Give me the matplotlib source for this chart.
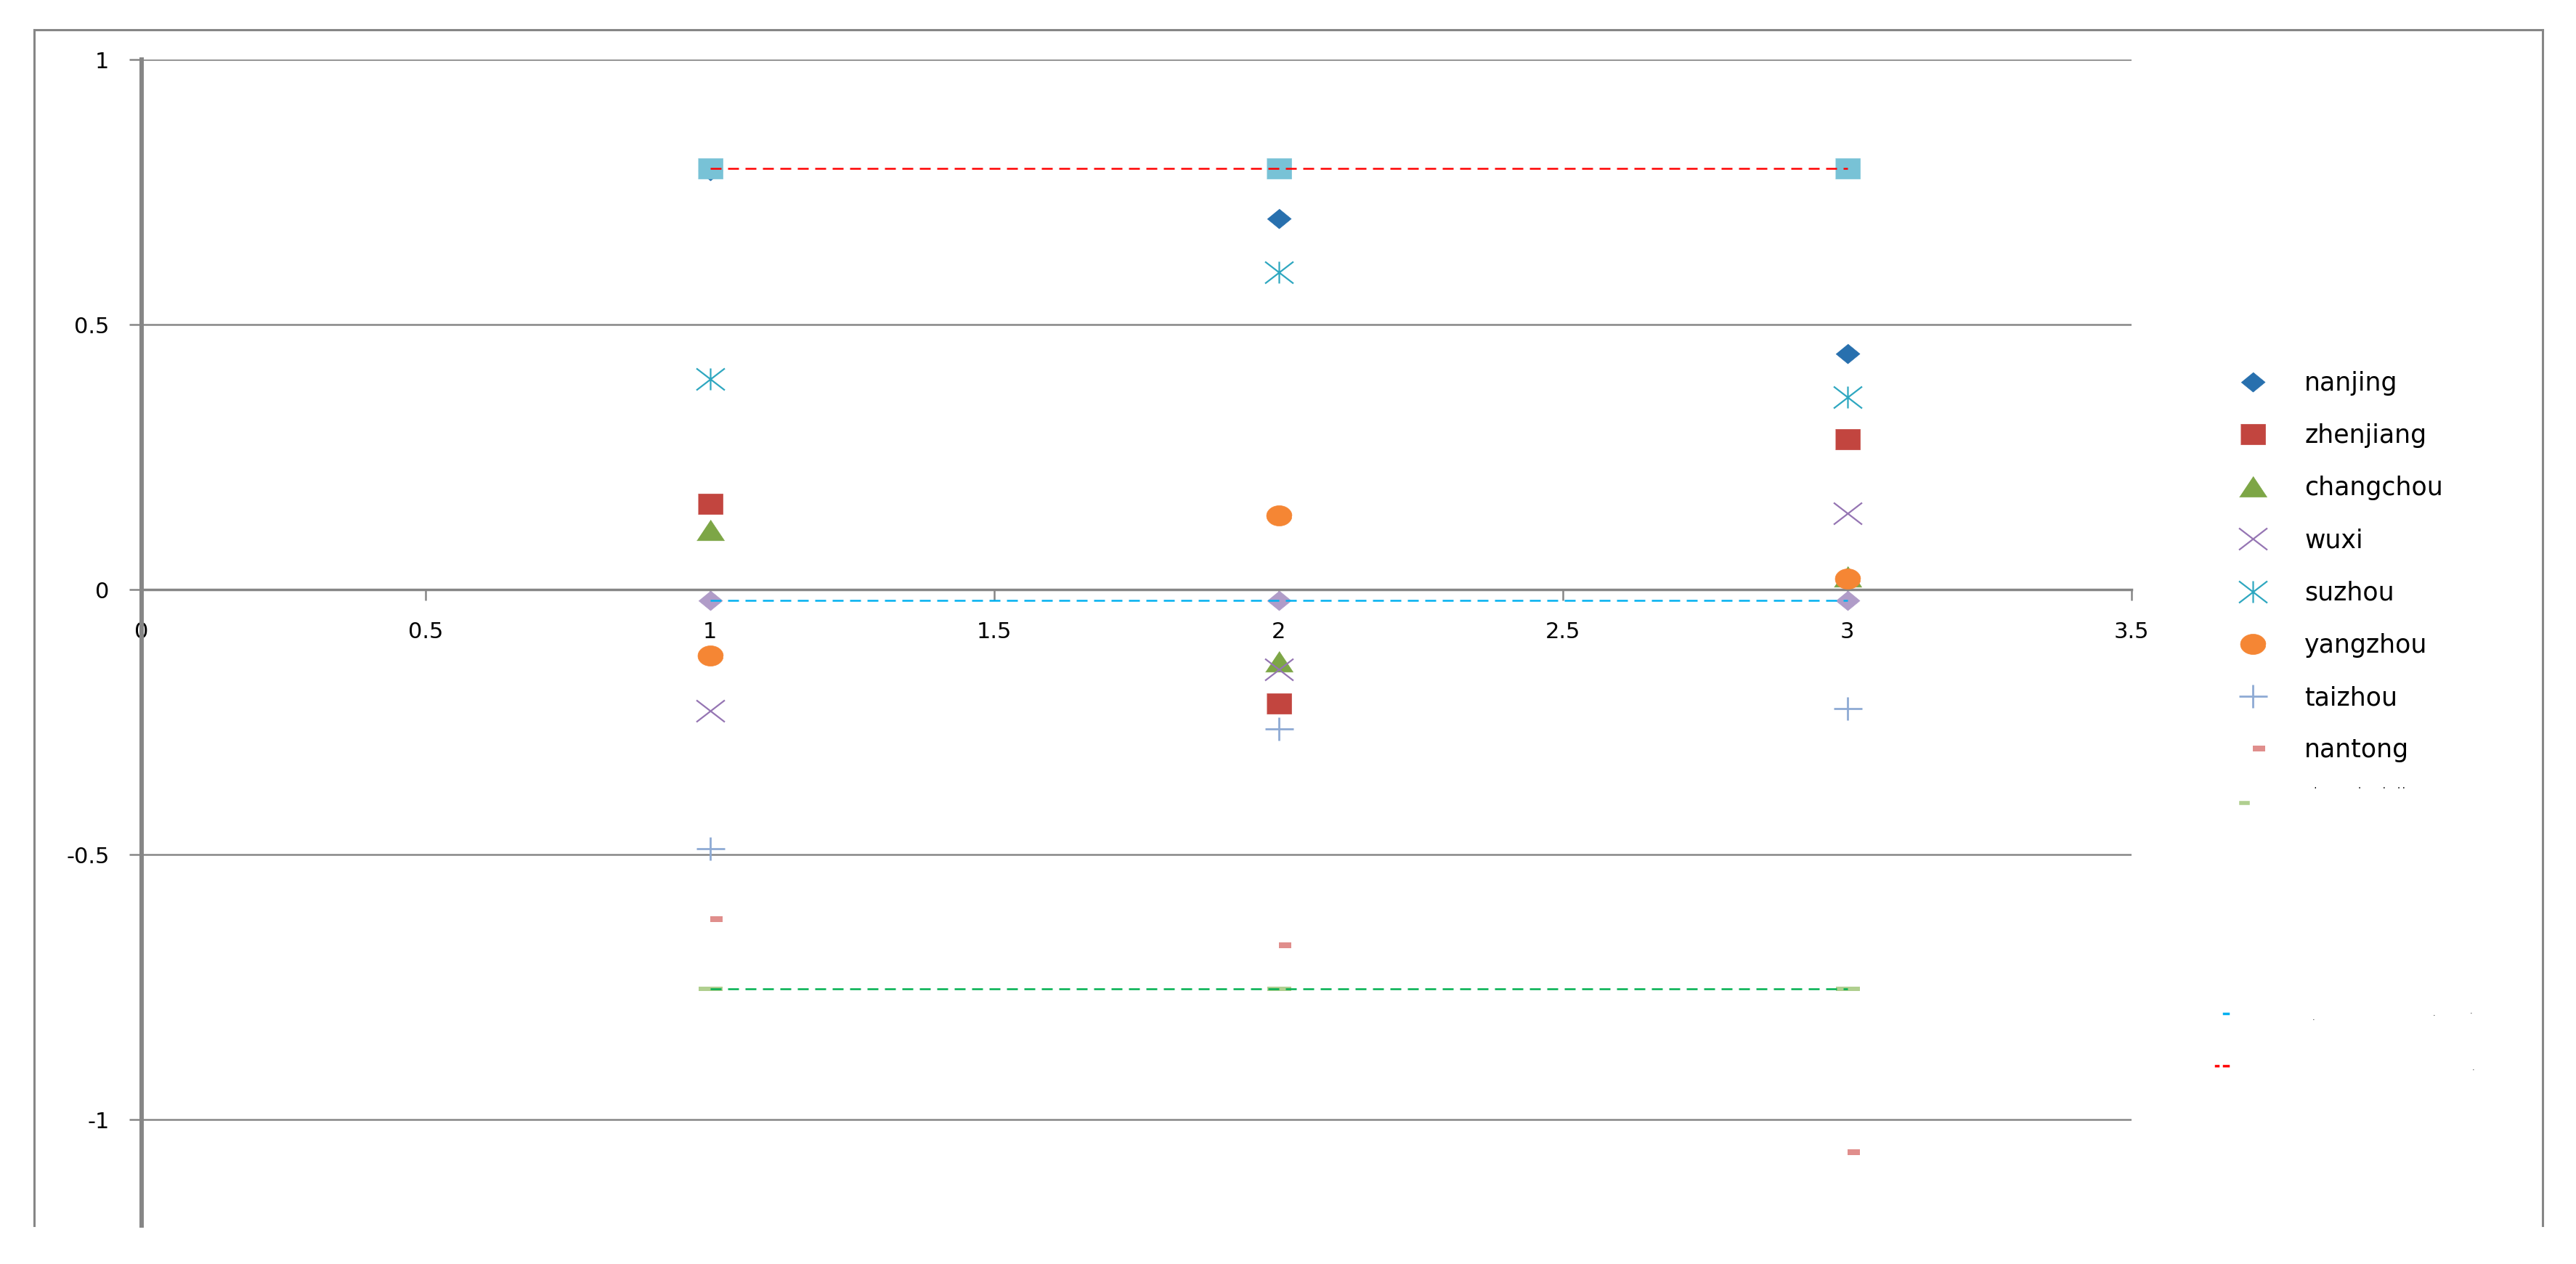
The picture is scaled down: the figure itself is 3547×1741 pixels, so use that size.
import matplotlib
matplotlib.use("Agg")
import matplotlib.pyplot as plt
from matplotlib.path import Path
from matplotlib.lines import Line2D
import numpy as np

# ---------------- data ----------------
x_vals = [1, 2, 3]
cities = ["nanjing", "zhenjiang", "changchou", "wuxi", "suzhou", "yangzhou", "taizhou", "nantong"]
nanjing = [0.79, 0.70, 0.445]
zhenjiang = [0.161, -0.215, 0.283]
changchou = [0.112, -0.136, 0.024]
wuxi = [-0.229, -0.150, 0.144]
suzhou = [0.397, 0.599, 0.363]
yangzhou = [-0.124, 0.140, 0.020]
taizhou = [-0.489, -0.263, -0.225]
nantong = [-0.622, -0.671, -1.062]
max_line = [0.794, 0.794, 0.794]
mean_line = [-0.02, -0.02, -0.02]
min_line = [-0.753, -0.753, -0.753]

x_ticks = [0, 0.5, 1, 1.5, 2, 2.5, 3, 3.5]
x_tick_labels = ["0", "0.5", "1", "1.5", "2", "2.5", "3", "3.5"]
y_ticks = [-1, -0.5, 0, 0.5, 1]
y_tick_labels = ["-1", "-0.5", "0", "0.5", "1"]

# ---------------- figure ----------------
W, H = 3548, 1741
fig = plt.figure(figsize=(W / 100, H / 100), dpi=100)
fig.patch.set_facecolor("white")


def fx(px):
    return px / W


def fy(py):
    return 1 - py / H


PX = 0.72  # points per pixel at dpi 100
GRID = "#868686"

ax = fig.add_axes([fx(195), fy(1688), fx(2935) - fx(195), fy(82) - fy(1688)])

# ---------------- marker shapes ----------------
M, L = Path.MOVETO, Path.LINETO
diamond = [(0, 0.82), (1, 0), (0, -0.82), (-1, 0)]
square = [(-1, -0.85), (1, -0.85), (1, 0.85), (-1, 0.85)]
triangle = [(0, 0.75), (1, -0.75), (-1, -0.75)]
tt = np.linspace(0, 2 * np.pi, 40, endpoint=False)
ellipse = list(zip(np.cos(tt), 0.8 * np.sin(tt)))
xmark = Path([(-1, -0.77), (1, 0.77), (-1, 0.77), (1, -0.77)], [M, L, M, L])
star = Path([(-1, -0.77), (1, 0.77), (-1, 0.77), (1, -0.77), (0, -0.77), (0, 0.77)],
            [M, L, M, L, M, L])
plus = Path([(-1, 0), (1, 0), (0, -0.82), (0, 0.82)], [M, L, M, L])
halfdash = [(0, -0.24), (1, -0.24), (1, 0.24), (0, 0.24)]
dash = [(-1, -0.17), (1, -0.17), (1, 0.17), (-1, 0.17)]

styles = {
    "nanjing": dict(marker=diamond, ms=33 * PX, mfc="#2870AE", mec="#2870AE", mew=0.5),
    "zhenjiang": dict(marker=square, ms=34 * PX, mfc="#C2453F", mec="#C2453F", mew=0.5),
    "changchou": dict(marker=triangle, ms=38 * PX, mfc="#7DA646", mec="#7DA646", mew=0.5),
    "wuxi": dict(marker=xmark, ms=39 * PX, mfc="none", mec="#9575B3", mew=1.6),
    "suzhou": dict(marker=star, ms=39 * PX, mfc="none", mec="#2EA7C0", mew=1.6),
    "yangzhou": dict(marker=ellipse, ms=35 * PX, mfc="#F58634", mec="#F58634", mew=0.5),
    "taizhou": dict(marker=plus, ms=39 * PX, mfc="none", mec="#8EAAD4", mew=2.0),
    "nantong": dict(marker=halfdash, ms=34 * PX, mfc="#E08E8C", mec="#E08E8C", mew=0),
}
series = [nanjing, zhenjiang, changchou, wuxi, suzhou, yangzhou, taizhou, nantong]

handles = []
for name, vals in zip(cities, series):
    st = styles[name]
    ax.plot(x_vals, vals, linestyle="none", zorder=3, **st)
    handles.append(Line2D([], [], linestyle="none", **st))

# reference series markers
ax.plot(x_vals, min_line, linestyle="none", marker=dash, ms=33 * PX,
        mfc="#B0CF8F", mec="#B0CF8F", mew=0, zorder=3)
ax.plot(x_vals, mean_line, linestyle="none", marker=diamond, ms=33 * PX,
        mfc="#B09CC8", mec="#B09CC8", mew=0.5, zorder=3)
ax.plot(x_vals, max_line, linestyle="none", marker=square, ms=34 * PX,
        mfc="#78C2D6", mec="#78C2D6", mew=0.5, zorder=3)

# dashed reference lines
lw = 1.8
ax.plot(x_vals, max_line, color="#FF0000", lw=lw, linestyle=(0, (6, 3.6)), zorder=4)
ax.plot(x_vals, mean_line, color="#00B0F0", lw=lw, linestyle=(0, (6, 3.6)), zorder=4)
ax.plot(x_vals, min_line, color="#00B050", lw=lw, linestyle=(0, (6, 3.6)), zorder=4)

# ---------------- axes styling ----------------
ax.set_xlim(0, 3.5)
ax.set_ylim(-1.2, 1)
for s in ("top", "right"):
    ax.spines[s].set_visible(False)
ax.spines["bottom"].set_position(("data", 0))
ax.spines["bottom"].set_color(GRID)
ax.spines["bottom"].set_linewidth(2.5)
ax.spines["left"].set_color(GRID)
ax.spines["left"].set_linewidth(4.3)

ax.set_xticks(x_ticks)
ax.set_xticklabels(x_tick_labels)
ax.set_yticks(y_ticks)
ax.set_yticklabels(y_tick_labels)
ax.yaxis.grid(True, color=GRID, lw=1.8)
ax.set_axisbelow(True)
ax.tick_params(axis="y", direction="out", length=12, width=1.8, color=GRID,
               pad=20, labelsize=22)
ax.tick_params(axis="x", direction="out", length=11, width=1.8, color=GRID,
               pad=21, labelsize=22)

# ---------------- chart-area frame ----------------
for xs, ys in [([47, 3501], [41, 41]), ([47, 47], [41, 1688]), ([3501, 3501], [41, 1688])]:
    fig.add_artist(Line2D([fx(v) for v in xs], [fy(v) for v in ys],
                          transform=fig.transFigure, color=GRID, lw=2.2))

# ---------------- legend ----------------
fig.legend(handles, cities, loc="upper left", bbox_to_anchor=(fx(3069), fy(511)),
           frameon=False, fontsize=25, handlelength=1.9, handletextpad=1.1,
           labelspacing=1.1, borderpad=0, borderaxespad=0, numpoints=1)

# remnants of the clipped legend entries
fig.add_artist(Line2D([fx(3086), fx(3095)], [fy(1106), fy(1106)], transform=fig.transFigure,
                      color="#B0CF8F", lw=4))
fig.add_artist(Line2D([fx(3062), fx(3068)], [fy(1396), fy(1396)], transform=fig.transFigure,
                      color="#00B0F0", lw=2.5))
fig.add_artist(Line2D([fx(3051), fx(3054)], [fy(1468), fy(1468)], transform=fig.transFigure,
                      color="#FF0000", lw=2.5))
fig.add_artist(Line2D([fx(3062), fx(3068)], [fy(1468), fy(1468)], transform=fig.transFigure,
                      color="#FF0000", lw=2.5))
fig.text(fx(3185), fy(1086), ".        .    .  ..", family="DejaVu Sans Mono", fontsize=8,
         va="baseline")
for px, py in [(3184, 1405), (3350, 1399), (3401, 1396), (3404, 1474)]:
    fig.text(fx(px), fy(py), ".", fontsize=8, va="baseline")

fig.savefig("out.png", dpi=100, facecolor="white")
